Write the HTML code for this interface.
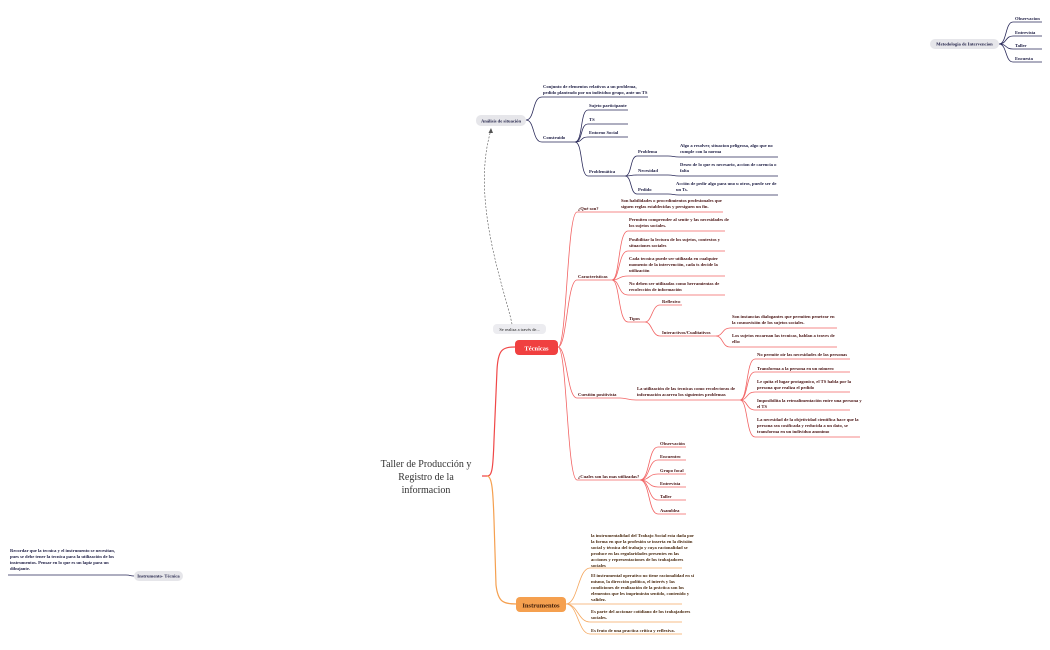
<!DOCTYPE html>
<html><head><meta charset="utf-8"><style>
html,body{margin:0;padding:0;background:#fff;}
svg{display:block}
text{font-family:"Liberation Serif",serif;}
.n{fill:#1d1d44;font-size:4.6px;font-weight:bold}
.r{fill:#4a1414;font-size:4.6px;font-weight:bold}
.o{fill:#4a2a10;font-size:4.6px;font-weight:bold}
.ln{stroke:#2a2a5a;stroke-width:0.8;fill:none}
.lr{stroke:#f26464;stroke-width:0.8;fill:none}
.lo{stroke:#f5a860;stroke-width:0.8;fill:none}
</style></head><body>
<svg width="1050" height="650" viewBox="0 0 1050 650" xmlns="http://www.w3.org/2000/svg">
<!-- central -->
<text x="426" y="467" font-size="10" fill="#333" text-anchor="middle">Taller de Producción y</text>
<text x="426" y="480" font-size="10" fill="#333" text-anchor="middle">Registro de la</text>
<text x="426" y="493" font-size="10" fill="#333" text-anchor="middle">informacion</text>
<path d="M482 476 H487 C492 476 493 470 494 440 L497 370 C498 350 502 347 515 347" stroke="#f04848" stroke-width="1.2" fill="none"/>
<path d="M487 476 C492 476 493 490 494 520 L496 585 C498 602 503 604 517 604" stroke="#f5a050" stroke-width="1.2" fill="none"/>
<!-- Tecnicas -->
<rect x="515" y="340" width="43" height="15" rx="4" fill="#f04040"/>
<text x="536.5" y="350.5" font-size="6.5" font-weight="bold" fill="#fff" text-anchor="middle">Técnicas</text>
<path class="lr" d="M558 347 C567 347 567 212 577 212 H723"/>
<path class="lr" d="M558 347 C567 347 567 280 577 280 H612"/>
<path class="lr" d="M558 347 C567 347 567 398 577 398 H620"/>
<path class="lr" d="M558 347 C567 347 567 480 577 480 H640"/>
<text class="r" x="578" y="210">¿Qué son?</text>
<text class="r" x="621" y="202">Son habilidades o procedimientos profesionales que</text>
<text class="r" x="621" y="208">siguen reglas establecidas y persiguen un fin.</text>
<text class="r" x="578" y="278">Características</text>
<path class="lr" d="M612 280 C620 280 618 231 628 231 H725"/>
<path class="lr" d="M612 280 C620 280 618 251 628 251 H725"/>
<path class="lr" d="M612 280 C620 280 618 276 628 276 H725"/>
<path class="lr" d="M612 280 C620 280 618 295 628 295 H725"/>
<path class="lr" d="M612 280 C620 280 618 322 628 322 H645"/>
<text class="r" x="629" y="221">Permiten comprender al sentir y las necesidades de</text>
<text class="r" x="629" y="227">los sujetos sociales.</text>
<text class="r" x="629" y="241">Posibilitar la lectura de los sujetos, contextos y</text>
<text class="r" x="629" y="247">situaciones sociales</text>
<text class="r" x="629" y="260">Cada tecnica puede ser utilizada en cualquier</text>
<text class="r" x="629" y="266">momento de la intervención, cada ts decide la</text>
<text class="r" x="629" y="272">utilización</text>
<text class="r" x="629" y="285">No deben ser utilizadas como herramientas de</text>
<text class="r" x="629" y="291">recolección de información</text>
<text class="r" x="629" y="320">Tipos</text>
<path class="lr" d="M645 322 C652 322 652 305 660 305 H682"/>
<path class="lr" d="M645 322 C652 322 652 336 660 336 H716"/>
<text class="r" x="662" y="303">Reflexivo</text>
<text class="r" x="662" y="334">Interactivos/Cualitativos</text>
<path class="lr" d="M716 336 C723 336 722 328 730 328 H837"/>
<path class="lr" d="M716 336 C723 336 722 347 730 347 H837"/>
<text class="r" x="732" y="318">Son instancias dialogantes que permiten penetrar en</text>
<text class="r" x="732" y="324">la cosmovisión de los sujetos sociales.</text>
<text class="r" x="732" y="337">Los sujetos encarnan las tecnicas, hablan a traves de</text>
<text class="r" x="732" y="343">ello:</text>
<text class="r" x="578" y="396">Cuestión positivista</text>
<path class="lr" d="M620 398 C626 398 628 400 636 400 H740"/>
<text class="r" x="637" y="390">La utilización de las tecnicas como recolectoras de</text>
<text class="r" x="637" y="396">información acarrea los siguientes problemas</text>
<path class="lr" d="M740 400 C748 400 746 359 755 359 H850"/>
<path class="lr" d="M740 400 C748 400 746 372 755 372 H850"/>
<path class="lr" d="M740 400 C748 400 746 392 755 392 H850"/>
<path class="lr" d="M740 400 C748 400 746 410 755 410 H850"/>
<path class="lr" d="M740 400 C748 400 746 437 755 437 H860"/>
<text class="r" x="757" y="356">No permite oir las necesidades de las personas</text>
<text class="r" x="757" y="370">Transforma a la persona  en un número</text>
<text class="r" x="757" y="383">Le quita el lugar protagonico, el TS habla por la</text>
<text class="r" x="757" y="389">persona que realiza el pedido</text>
<text class="r" x="757" y="402">Imposibilita la retroalimentación entre una persona y</text>
<text class="r" x="757" y="408">el TS</text>
<text class="r" x="757" y="421">La necesidad de la objetividad científica hace que la</text>
<text class="r" x="757" y="427">persona sea cosificada y reducida a un dato, se</text>
<text class="r" x="757" y="433">transforma en un individuo anonimo</text>
<text class="r" x="578" y="478">¿Cuales son las mas utilizadas?</text>
<path class="lr" d="M640 480 C650 480 648 447 658 447 H686"/>
<path class="lr" d="M640 480 C650 480 648 460 658 460 H686"/>
<path class="lr" d="M640 480 C650 480 648 474 658 474 H686"/>
<path class="lr" d="M640 480 C650 480 648 487 658 487 H686"/>
<path class="lr" d="M640 480 C650 480 648 500 658 500 H686"/>
<path class="lr" d="M640 480 C650 480 648 514 658 514 H686"/>
<text class="r" x="660" y="445">Observación</text>
<text class="r" x="660" y="458">Encuentro</text>
<text class="r" x="660" y="472">Grupo focal</text>
<text class="r" x="660" y="485">Entrevista</text>
<text class="r" x="660" y="498">Taller</text>
<text class="r" x="660" y="512">Asamblea</text>
<!-- Instrumentos -->
<rect x="516" y="597" width="50" height="15" rx="4" fill="#f5a04f"/>
<text x="541" y="607.5" font-size="6.5" font-weight="bold" fill="#3a1a08" text-anchor="middle">Instrumentos</text>
<path class="lo" d="M566 604 C578 604 578 568 590 568 H682"/>
<path class="lo" d="M566 604 C578 604 578 604 590 604 H682"/>
<path class="lo" d="M566 604 C578 604 578 622 590 622 H682"/>
<path class="lo" d="M566 604 C578 604 578 634 590 634 H682"/>
<text class="o" x="591" y="537">la instrumentalidad del Trabajo Social esta dada por</text>
<text class="o" x="591" y="543">la forma en que la profesión se inserta en la división</text>
<text class="o" x="591" y="549">social y técnica del trabajo y cuya racionalidad se</text>
<text class="o" x="591" y="555">produce en las regularidades presentes en las</text>
<text class="o" x="591" y="561">acciones y representaciones de los trabajadores</text>
<text class="o" x="591" y="567">sociales</text>
<text class="o" x="591" y="577">El instrumental operativo no tiene racionalidad en sí</text>
<text class="o" x="591" y="583">mismo, la dirección política, el interés y las</text>
<text class="o" x="591" y="589">condiciones de realización de la práctica son los</text>
<text class="o" x="591" y="595">elementos que les imprimirán sentido, contenido y</text>
<text class="o" x="591" y="601">validez.</text>
<text class="o" x="591" y="613">Es parte del accionar cotidiano de los trabajadores</text>
<text class="o" x="591" y="619">sociales.</text>
<text class="o" x="591" y="632">Es fruto de una practica crítica y reflexiva.</text>
<!-- Se realiza / Analisis -->
<rect x="493" y="324" width="53" height="10" rx="4" fill="#ececf0"/>
<text x="519.5" y="331" font-size="4.4" fill="#222" text-anchor="middle" font-family="Liberation Sans">Se realiza a través de...</text>
<path d="M512 324 C505 290 470 200 491 130" stroke="#555" stroke-width="0.6" stroke-dasharray="2,1.5" fill="none"/>
<path d="M491 128 L488.5 133 L493 133 Z" fill="#555"/>
<rect x="476" y="115" width="50" height="11" rx="5" fill="#e6e6ea"/>
<text class="n" x="501" y="122.5" text-anchor="middle">Análisis de situación</text>
<path class="ln" d="M526 120 C535 120 532 97 542 97 H648"/>
<path class="ln" d="M526 120 C535 120 532 142 542 142 H575"/>
<text class="n" x="543" y="88">Conjunto de elementos relativos a un problema,</text>
<text class="n" x="543" y="94">pedido planteado por un individuo grupo, ante un TS</text>
<text class="n" x="543" y="139">Construido</text>
<path class="ln" d="M575 142 C583 142 580 110 588 110 H628"/>
<path class="ln" d="M575 142 C583 142 580 124 588 124 H628"/>
<path class="ln" d="M575 142 C583 142 580 137 588 137 H628"/>
<path class="ln" d="M575 142 C583 142 580 176 588 176 H625"/>
<text class="n" x="589" y="107">Sujeto participante</text>
<text class="n" x="589" y="121">TS</text>
<text class="n" x="589" y="134">Entorno Social</text>
<text class="n" x="589" y="173">Problemática</text>
<path class="ln" d="M625 176 C632 176 630 156 637 156 H668"/>
<path class="ln" d="M625 176 C632 176 630 175 637 175 H668"/>
<path class="ln" d="M625 176 C632 176 630 194 637 194 H668"/>
<text class="n" x="638" y="153">Problema</text>
<text class="n" x="638" y="172">Necesidad</text>
<text class="n" x="638" y="191">Pedido</text>
<path class="ln" d="M668 156 C674 156 673 157 679 157 H778"/>
<path class="ln" d="M668 175 C674 175 673 176 679 176 H778"/>
<path class="ln" d="M668 194 C674 194 673 195 679 195 H778"/>
<text class="n" x="680" y="147">Algo a resolver, situacion peligrosa, algo que no</text>
<text class="n" x="680" y="153">cumple con la norma</text>
<text class="n" x="680" y="166">Deseo de lo que es necesario, accion de carencia o</text>
<text class="n" x="680" y="172">falta</text>
<text class="n" x="676" y="185">Acción de pedir algo para uno u otros, puede ser de</text>
<text class="n" x="676" y="191">un Ts.</text>
<!-- Metodologia -->
<rect x="930" y="39" width="69" height="10" rx="5" fill="#e6e6ea"/>
<text class="n" x="964.5" y="45.5" text-anchor="middle">Metodologia de Intervencion</text>
<path class="ln" d="M999 44 C1007 44 1005 22 1013 22 H1042"/>
<path class="ln" d="M999 44 C1007 44 1005 36 1013 36 H1042"/>
<path class="ln" d="M999 44 C1007 44 1005 49 1013 49 H1042"/>
<path class="ln" d="M999 44 C1007 44 1005 62 1013 62 H1042"/>
<text class="n" x="1015" y="20">Observacion</text>
<text class="n" x="1015" y="34">Entrevista</text>
<text class="n" x="1015" y="47">Taller</text>
<text class="n" x="1015" y="60">Encuesta</text>
<!-- Instrumento-Tecnica -->
<rect x="134" y="571" width="49" height="10" rx="5" fill="#e6e6ea"/>
<text class="n" x="158.5" y="577.5" text-anchor="middle">Instrumento- Técnica</text>
<path class="ln" d="M134 576 C130 576 130 575 126 575 H8"/>
<text class="n" x="10" y="552">Recordar que la tecnica y el instrumento se necesitan,</text>
<text class="n" x="10" y="558">pues se debe tener la tecnica para la utilización de los</text>
<text class="n" x="10" y="564">instrumentos. Pensar en lo que es un lapiz para un</text>
<text class="n" x="10" y="570">dibujante.</text>
</svg>
</body></html>
